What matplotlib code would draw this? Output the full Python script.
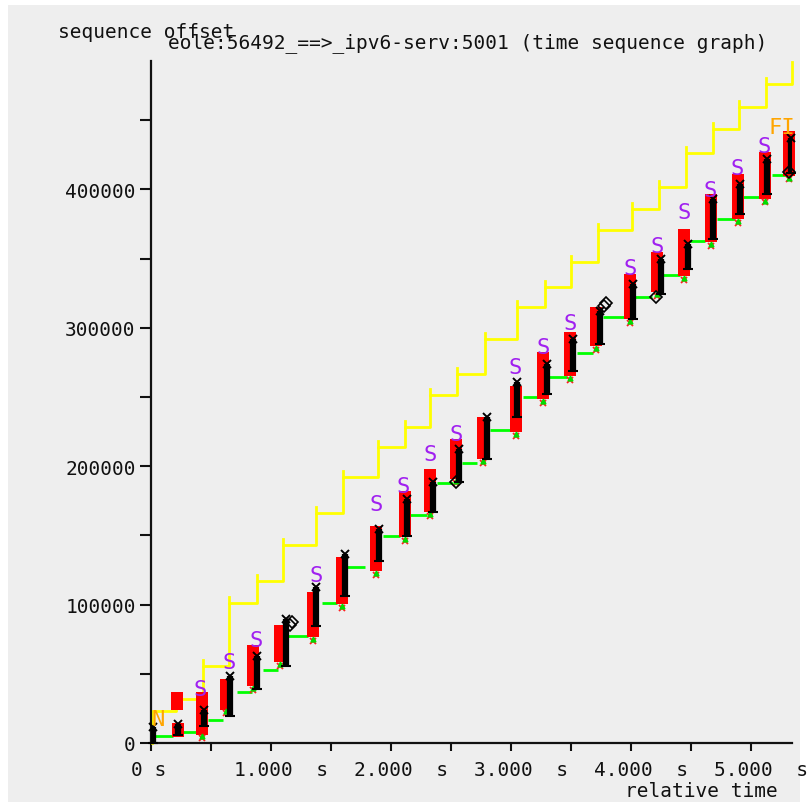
import matplotlib
matplotlib.use("Agg")
import matplotlib.pyplot as plt
from matplotlib.patches import Rectangle
from matplotlib.transforms import ScaledTranslation

# ---------------- data ----------------
# red (retransmitted / sacked) blocks: time [s], seq low, seq high
red_t = [0.213, 0.221, 0.421, 0.629, 0.850, 1.071, 1.354, 1.588, 1.871, 2.113, 2.329, 2.538,
         2.771, 3.038, 3.263, 3.488, 3.710, 3.992, 4.213, 4.446, 4.663, 4.888, 5.113, 5.317]
red_lo = [24200, 4000, 6100, 24200, 40900, 58200, 76300, 100100, 124000, 148600, 166600, 190500,
          205000, 224500, 248400, 264900, 286700, 306200, 325700, 337300, 361900, 378500, 393000, 409700]
red_hi = [37200, 14800, 37200, 45900, 70500, 85000, 108800, 134100, 156500, 181800, 197700, 219400,
          235300, 257700, 282300, 296700, 314800, 338700, 354600, 371300, 396600, 411100, 427000, 442200]

# black data-segment clusters
blk_t = [0.020, 0.225, 0.440, 0.660, 0.880, 1.125, 1.375, 1.617, 1.900, 2.133, 2.350, 2.567,
         2.800, 3.050, 3.300, 3.517, 3.742, 4.017, 4.250, 4.475, 4.683, 4.908, 5.133, 5.333]
blk_lo = [0, 6100, 12000, 19200, 38700, 55300, 84200, 105900, 131200, 149300, 166600, 188300,
          205000, 235300, 252000, 268600, 288200, 306200, 324300, 342300, 364000, 382100, 396600, 411800]
blk_hi = [11900, 13400, 24200, 48100, 62500, 89300, 112400, 136300, 154400, 176000, 188300, 212200,
          235300, 260600, 273700, 291700, 312000, 331500, 349600, 360400, 392900, 403700, 421900, 437100]

# green ack line segments
ack_start = [0.000, 0.267, 0.475, 0.717, 0.933, 1.133, 1.425, 1.633, 1.933, 2.158, 2.383, 2.592,
             2.825, 3.100, 3.308, 3.550, 3.767, 4.033, 4.267, 4.492, 4.717, 4.933, 5.175]
ack_end = [0.183, 0.408, 0.600, 0.842, 1.058, 1.308, 1.550, 1.783, 2.075, 2.300, 2.517, 2.717,
           3.008, 3.225, 3.467, 3.683, 3.950, 4.175, 4.408, 4.617, 4.867, 5.075, 5.300]
ack_seq = [4700, 7600, 16300, 36500, 52400, 77000, 100900, 126900, 149300, 164500, 187600, 202100,
           225900, 249800, 264200, 281600, 307600, 322100, 338000, 362600, 378500, 394400, 410300]

# yellow receive-window line (step changes)
win_t = [0.008, 0.208, 0.433, 0.650, 0.883, 1.100, 1.375, 1.600, 1.892, 2.117, 2.325, 2.550,
         2.783, 3.050, 3.283, 3.500, 3.725, 4.008, 4.233, 4.458, 4.683, 4.900, 5.125, 5.342]
win_seq = [22800, 31500, 55300, 100900, 116800, 142800, 165900, 191900, 213600, 228100, 251200, 266400,
           291700, 314900, 329300, 347400, 370500, 385700, 401600, 426200, 443500, 459400, 476000, 491900]

# SACK labels
sack_t = [0.408, 0.650, 0.875, 1.375, 1.875, 2.100, 2.325, 2.542, 3.033, 3.267, 3.492,
          3.992, 4.217, 4.442, 4.658, 4.883, 5.108]
sack_seq = [38700, 58200, 74100, 121100, 172400, 185400, 208600, 223000, 271500, 286000, 303300,
            343100, 359000, 383500, 399400, 415300, 431300]

# hollow diamonds (duplicate acks)
diam_t = [1.158, 1.175, 2.542, 3.775, 3.790, 4.208, 5.317]
diam_seq = [85000, 87500, 188300, 315600, 318000, 322500, 412400]

# SYN / FIN labels
flag_text = ["N", "FI"]
flag_t = [0.058, 5.258]
flag_seq = [17000, 445000]

x_major = [0, 1, 2, 3, 4, 5]
x_labels = ["0 s", "1.000  s", "2.000  s", "3.000  s", "4.000  s", "5.000  s"]
x_minor = [0.5, 1.5, 2.5, 3.5, 4.5]
y_major = [0, 100000, 200000, 300000, 400000]
y_labels = ["0", "100000", "200000", "300000", "400000"]
y_minor = [50000, 150000, 250000, 350000, 450000]

# ---------------- drawing ----------------
W, H = 807, 803
MONO = "DejaVu Sans Mono"
fig = plt.figure(figsize=(W / 100, H / 100), dpi=100)
fig.patch.set_facecolor("white")
fig.patches.append(Rectangle((8 / W, 0), (800 - 8) / W, (803 - 6) / H,
                             transform=fig.transFigure, facecolor="#eeeeee",
                             edgecolor="none", zorder=-10))

ax = fig.add_axes([151 / W, 1 - 744 / H, (792 - 151) / W, (744 - 62) / H])
ax.set_facecolor("none")
ax.set_xlim(0, 5.342)
ax.set_ylim(0, 492700)
for s in ("top", "right"):
    ax.spines[s].set_visible(False)
for s in ("left", "bottom"):
    ax.spines[s].set_linewidth(1.6)
    ax.spines[s].set_color("#111111")

# yellow window
ys = [0] + win_seq
xs = [win_t[0]] + win_t
ax.step(xs, ys, where="post", color="#ffff00", lw=2.0, zorder=2, clip_on=False)
for t, hi in zip(win_t[1:-1], win_seq[1:-1]):
    ax.plot([t, t], [hi, hi + 4500], color="#ffff00", lw=2.0, zorder=2, clip_on=False)

# green acks
ax.hlines(ack_seq, ack_start, ack_end, colors="#00ff00", lw=2.0, zorder=3)

# red blocks
ax.bar(red_t, [h - l for l, h in zip(red_lo, red_hi)], bottom=red_lo, width=0.1,
       color="#ff0000", edgecolor="none", zorder=4, clip_on=False)
ax.plot(red_t[2:], [v - 2500 for v in red_lo[2:]], ls="none", marker="x", ms=5,
        mew=1.3, color="#ff2020", zorder=5, clip_on=False)
ax.plot(red_t[2:], [v - 1200 for v in red_lo[2:]], ls="none", marker="^",
        ms=3.5, color="#00dd00", zorder=5)

# black segments
ax.vlines(blk_t, blk_lo, blk_hi, colors="black", lw=4.5, zorder=6)
ax.plot(blk_t, blk_hi, ls="none", marker="x", ms=6, mew=1.4, color="black", zorder=6, clip_on=False)
ax.plot(blk_t, blk_lo, ls="none", marker="_", ms=7, mew=1.5, color="black", zorder=6, clip_on=False)

# diamonds
ax.plot(diam_t, diam_seq, ls="none", marker="D", ms=6, mfc="none", mec="black", mew=1.2,
        zorder=7, clip_on=False)

# SACK labels
for t, s in zip(sack_t, sack_seq):
    ax.text(t, s, "S", color="#a020f0", fontsize=16, family=MONO, ha="center",
            va="center", zorder=8, clip_on=False)
for txt, t, s in zip(flag_text, flag_t, flag_seq):
    ax.text(t, s, txt, color="#ffa500", fontsize=16, family=MONO, ha="center",
            va="center", zorder=8, clip_on=False)

# ticks
ax.set_xticks(x_major)
ax.set_xticks(x_minor, minor=True)
ax.set_xticklabels(x_labels, family=MONO, fontsize=14)
ax.set_yticks(y_major)
ax.set_yticks(y_minor, minor=True)
ax.set_yticklabels(y_labels, family=MONO, fontsize=14)
ax.tick_params(axis="x", which="both", direction="out", length=6, width=1.5, pad=6,
               colors="#111111")
ax.tick_params(axis="y", which="both", direction="out", length=8, width=1.5, pad=3,
               colors="#111111")
off = ScaledTranslation(10 / 100, 0, fig.dpi_scale_trans)
for i, lab in enumerate(ax.get_xticklabels()):
    if i > 0:
        lab.set_transform(lab.get_transform() + off)
    else:
        lab.set_transform(lab.get_transform() + ScaledTranslation(-2 / 100, 0, fig.dpi_scale_trans))

# titles (the reference draws these two overlapping)
fig.text(58 / W, 1 - 33 / H, "sequence offset", family=MONO, fontsize=14, color="#111111",
         ha="left", va="center")
fig.text(468 / W, 1 - 43 / H, "eole:56492_==>_ipv6-serv:5001 (time sequence graph)",
         family=MONO, fontsize=14, color="#111111", ha="center", va="center")
fig.text(778 / W, 1 - 792 / H, "relative time", family=MONO, fontsize=14, color="#111111",
         ha="right", va="center")

fig.savefig("out.png", dpi=100, facecolor=fig.get_facecolor())
